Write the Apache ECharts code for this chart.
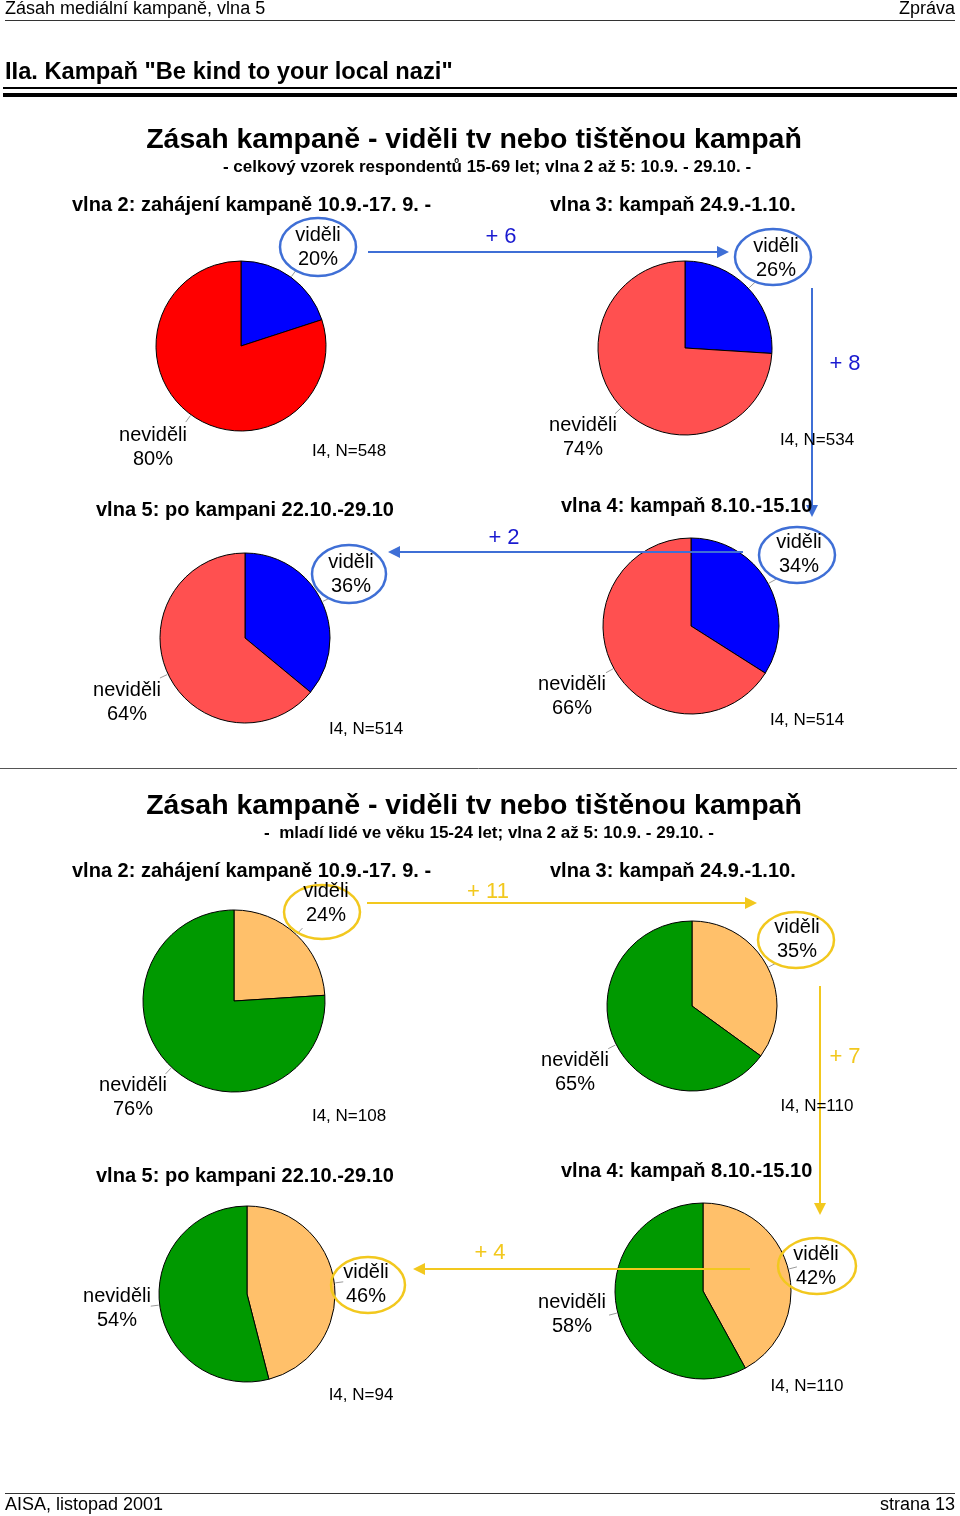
<!DOCTYPE html>
<html>
<head>
<meta charset="utf-8">
<script src="https://cdn.jsdelivr.net/npm/echarts@6/dist/echarts.min.js"></script>
<style>
html,body{margin:0;padding:0;background:#fff;}
#chart{width:960px;height:1516px;}
</style>
</head>
<body>
<div id="chart"></div>
<script>
// ---------- DATA ----------
const categories = ['viděli', 'neviděli'];
const waveTitles = [
  'vlna 2: zahájení kampaně 10.9.-17. 9. -',
  'vlna 3: kampaň 24.9.-1.10.',
  'vlna 4: kampaň 8.10.-15.10',
  'vlna 5: po kampani 22.10.-29.10'
];
const totalSeen    = [20, 26, 34, 36];
const totalNotSeen = [80, 74, 66, 64];
const totalN       = [548, 534, 514, 514];
const youthSeen    = [24, 35, 42, 46];
const youthNotSeen = [76, 65, 58, 54];
const youthN       = [108, 110, 110, 94];
const pageHeader = 'Zásah mediální kampaně, vlna 5';
const pageHeaderRight = 'Zpráva';
const chapterTitle = 'IIa. Kampaň "Be kind to your local nazi"';
const sectionTitle = 'Zásah kampaně - viděli tv nebo tištěnou kampaň';
const totalSubtitle = '- celkový vzorek respondentů 15-69 let; vlna 2 až 5: 10.9. - 29.10. -';
const youthSubtitle = '-  mladí lidé ve věku 15-24 let; vlna 2 až 5: 10.9. - 29.10. -';
const footerLeft = 'AISA, listopad 2001';
const footerRight = 'strana 13';

// ---------- LAYOUT ----------
const F = 'Liberation Sans, Arial, sans-serif';
const BLUE_LINE = '#3f6fd6';
const YELLOW_LINE = '#f2c81e';

// per-wave layout (order: vlna2, vlna3, vlna4, vlna5)
const totalLayout = [
  {c:[241,346], r:85, title:[72,205], seen:[318,247], ell:[318,247,38,29], not:[153,447], n:[349,451], red:'#ff0000'},
  {c:[685,348], r:87, title:[550,205], seen:[776,258], ell:[773,257,38,28], not:[583,437], n:[817,440], red:'#ff5050'},
  {c:[691,626], r:88, title:[561,506], seen:[799,554], ell:[797,555,38,28], not:[572,696], n:[807,720], red:'#ff5050'},
  {c:[245,638], r:85, title:[96,510], seen:[351,574], ell:[349,574,37,29], not:[127,702], n:[366,729], red:'#ff5050'}
];
const youthLayout = [
  {c:[234,1001], r:91, title:[72,871], seen:[326,903], ell:[322,912,38,27], not:[133,1097], n:[349,1116]},
  {c:[692,1006], r:85, title:[550,871], seen:[797,939], ell:[796,940,38,28], not:[575,1072], n:[817,1106]},
  {c:[703,1291], r:88, title:[561,1171], seen:[816,1266], ell:[817,1266,39,28], not:[572,1314], n:[807,1386]},
  {c:[247,1294], r:88, title:[96,1176], seen:[366,1284], ell:[368,1285,37,28], not:[117,1308], n:[361,1395]}
];

const series = [];
const graphic = [];

function txt(x, y, text, font, fill, align, z) {
  graphic.push({type:'text', x:x, y:y, z: z || 20, silent:true,
    style:{x:0, y:0, text:text, font:font, fill:fill || '#000',
      textAlign: align || 'left', align: align || 'left',
      textVerticalAlign:'middle', verticalAlign:'middle', lineHeight: 24}});
}
function line(x1,y1,x2,y2,color,w,z) {
  graphic.push({type:'line', z: z || 15, silent:true, shape:{x1:x1,y1:y1,x2:x2,y2:y2},
    style:{stroke:color, lineWidth:w}});
}
function arrowHead(tx, ty, dir, color) {
  const L = 12, W = 6;
  let pts;
  if (dir === 'right') pts = [[tx,ty],[tx-L,ty-W],[tx-L,ty+W]];
  if (dir === 'left')  pts = [[tx,ty],[tx+L,ty-W],[tx+L,ty+W]];
  if (dir === 'down')  pts = [[tx,ty],[tx-W,ty-L],[tx+W,ty-L]];
  graphic.push({type:'polygon', z:16, silent:true, shape:{points:pts}, style:{fill:color}});
}
function leader(c, r, startFrac, endFrac) {
  const mid = (startFrac + endFrac) / 2 * 2 * Math.PI;
  const sx = c[0] + Math.sin(mid) * (r + 1), sy = c[1] - Math.cos(mid) * (r + 1);
  const ex = c[0] + Math.sin(mid) * (r + 9), ey = c[1] - Math.cos(mid) * (r + 9);
  line(sx, sy, ex, ey, '#9a9a9a', 1, 14);
}

function addGroup(seen, notSeen, nArr, layout, seenColor, notColorDefault, ringColor) {
  for (let i = 0; i < 4; i++) {
    const L = layout[i];
    series.push({
      type:'pie', silent:true, animation:false,
      center:L.c, radius:[0, L.r], startAngle:90, clockwise:true,
      label:{show:false}, labelLine:{show:false},
      itemStyle:{borderColor:'#000', borderWidth:1},
      data:[
        {name:categories[0], value:seen[i], itemStyle:{color:seenColor}},
        {name:categories[1], value:notSeen[i], itemStyle:{color:L.red || notColorDefault}}
      ]
    });
    const tot = seen[i] + notSeen[i];
    leader(L.c, L.r, 0, seen[i] / tot);
    leader(L.c, L.r, seen[i] / tot, 1);
    txt(L.title[0], L.title[1], waveTitles[i], 'bold 20px ' + F, '#000', 'left');
    txt(L.seen[0], L.seen[1], categories[0] + '\n' + seen[i] + '%', '20px ' + F, '#000', 'center');
    txt(L.not[0], L.not[1], categories[1] + '\n' + notSeen[i] + '%', '20px ' + F, '#000', 'center');
    txt(L.n[0], L.n[1], 'I4, N=' + nArr[i], '17px ' + F, '#000', 'center');
    graphic.push({type:'ellipse', z:17, silent:true,
      shape:{cx:L.ell[0], cy:L.ell[1], rx:L.ell[2], ry:L.ell[3]},
      style:{fill:'rgba(0,0,0,0)', stroke:ringColor, lineWidth:2.5}});
  }
}

addGroup(totalSeen, totalNotSeen, totalN, totalLayout, '#0000ff', '#ff5050', BLUE_LINE);
addGroup(youthSeen, youthNotSeen, youthN, youthLayout, '#ffc06a', '#009900', YELLOW_LINE);

function diff(arr, a, b) { return '+ ' + (arr[b] - arr[a]); }

// total arrows
line(368, 252, 718, 252, BLUE_LINE, 2); arrowHead(729, 252, 'right', BLUE_LINE);
txt(501, 237, diff(totalSeen, 0, 1), '22px ' + F, '#1a1ad0', 'center');
line(812, 288, 812, 506, BLUE_LINE, 2); arrowHead(812, 517, 'down', BLUE_LINE);
txt(845, 364, diff(totalSeen, 1, 2), '22px ' + F, '#1a1ad0', 'center');
line(400, 552, 743, 552, BLUE_LINE, 2); arrowHead(388, 552, 'left', BLUE_LINE);
txt(504, 538, diff(totalSeen, 2, 3), '22px ' + F, '#1a1ad0', 'center');

// youth arrows
line(367, 903, 746, 903, YELLOW_LINE, 2); arrowHead(757, 903, 'right', YELLOW_LINE);
txt(488, 892, diff(youthSeen, 0, 1), '22px ' + F, YELLOW_LINE, 'center');
line(820, 986, 820, 1204, YELLOW_LINE, 2); arrowHead(820, 1215, 'down', YELLOW_LINE);
txt(845, 1057, diff(youthSeen, 1, 2), '22px ' + F, YELLOW_LINE, 'center');
line(424, 1269, 750, 1269, YELLOW_LINE, 2); arrowHead(413, 1269, 'left', YELLOW_LINE);
txt(490, 1253, diff(youthSeen, 2, 3), '22px ' + F, YELLOW_LINE, 'center');

// page furniture
txt(5, 9, pageHeader, '18px ' + F, '#000', 'left');
txt(955, 9, pageHeaderRight, '18px ' + F, '#000', 'right');
line(5, 20.5, 955, 20.5, '#333', 1);
txt(5, 72, chapterTitle, 'bold 23.7px ' + F, '#000', 'left');
line(3, 88, 957, 88, '#000', 2);
line(3, 95, 957, 95, '#000', 4);
txt(474, 140, sectionTitle, 'bold 28.5px ' + F, '#000', 'center');
txt(487, 167, totalSubtitle, 'bold 17px ' + F, '#000', 'center');
line(0, 768.5, 957, 768.5, '#555', 1);
txt(474, 806, sectionTitle, 'bold 28.5px ' + F, '#000', 'center');
txt(489, 833, youthSubtitle, 'bold 17px ' + F, '#000', 'center');
line(5, 1493.5, 955, 1493.5, '#333', 1);
txt(5, 1505, footerLeft, '18px ' + F, '#000', 'left');
txt(955, 1505, footerRight, '18px ' + F, '#000', 'right');

const chart = echarts.init(document.getElementById('chart'), null, {renderer:'canvas'});
chart.setOption({
  backgroundColor:'#ffffff',
  animation:false,
  series: series,
  graphic: {elements: graphic}
});
</script>
</body>
</html>
